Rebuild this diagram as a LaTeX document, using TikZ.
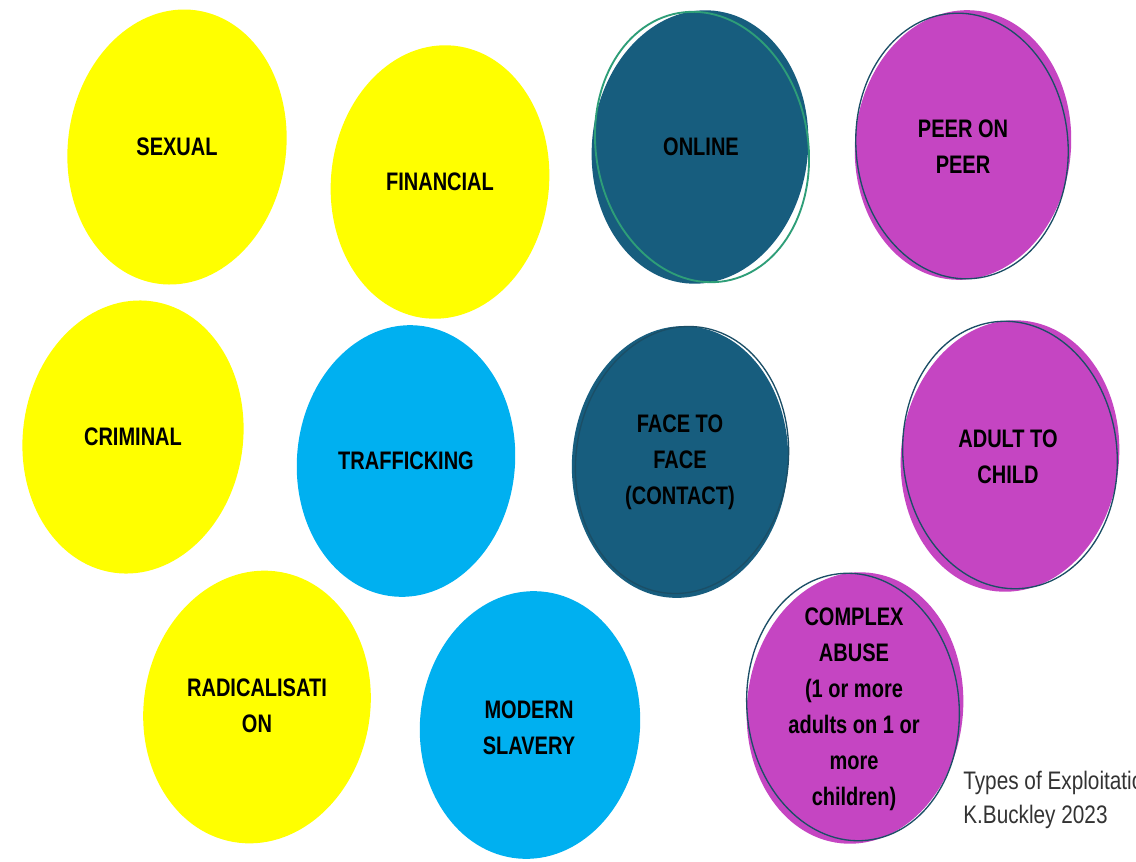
\documentclass[tikz,border=0pt]{standalone}
\usepackage{fontspec}
\setmainfont{Liberation Sans}
\newfontfamily\lblfont[FakeStretch=0.79]{Liberation Sans}
\newfontfamily\credfont[FakeStretch=0.82]{Liberation Sans}
\definecolor{ylw}{HTML}{FFFF00}
\definecolor{cyn}{HTML}{00B0F0}
\definecolor{tea}{HTML}{175D7E}
\definecolor{pur}{HTML}{C545C2}
\definecolor{dkout}{HTML}{1B4E66}
\definecolor{grn}{HTML}{2E9E78}
\definecolor{crd}{HTML}{333333}
\tikzset{
  lbl/.style={align=center, text=black, font=\lblfont\bfseries\fontsize{19}{27}\selectfont, inner sep=0pt},
  cred/.style={anchor=west, text=crd, font=\credfont\fontsize{19}{25}\selectfont, inner sep=0pt},
  edge1/.style={dkout, line width=1pt},
}
\begin{document}
\begin{tikzpicture}[x=0.75pt,y=-0.75pt]
\useasboundingbox (0,0) rectangle (1136,861);
\clip (0,0) rectangle (1136,861);
\fill[white] (0,0) rectangle (1136,861);
% yellow blobs
\fill[ylw, rotate around={-8:(177,147)}] (177,147) ellipse [x radius=109, y radius=138];
\fill[ylw, rotate around={-6:(440,182)}] (440,182) ellipse [x radius=109, y radius=137];
\fill[ylw, rotate around={-8:(133,437)}] (133,437) ellipse [x radius=110, y radius=137];
\fill[ylw, rotate around={-10:(257,707)}] (257,707) ellipse [x radius=113, y radius=137];
% cyan blobs
\fill[cyn, rotate around={-5:(406,461)}] (406,461) ellipse [x radius=109, y radius=136];
\fill[cyn, rotate around={-5:(530,725)}] (530,725) ellipse [x radius=110, y radius=134];
% teal blobs
\fill[tea, rotate around={-6:(700,147)}] (700,147) ellipse [x radius=108, y radius=137];
\draw[grn, line width=1.4pt, rotate around={10:(702,147)}] (702,147) ellipse [x radius=106, y radius=136];
\fill[tea, rotate around={-4:(680,462)}] (680,462) ellipse [x radius=108, y radius=136];
\draw[edge1, rotate around={-8:(682,460)}] (682,460) ellipse [x radius=106, y radius=134];
% purple blobs
\fill[pur, rotate around={-5:(963,145)}] (963,145) ellipse [x radius=108, y radius=135];
\draw[edge1, rotate around={5:(962,146)}] (962,146) ellipse [x radius=106, y radius=133];
\fill[pur, rotate around={-6:(1010,456)}] (1010,456) ellipse [x radius=109, y radius=136];
\draw[edge1, rotate around={6:(1010,455)}] (1010,455) ellipse [x radius=107, y radius=134];
\fill[pur, rotate around={-6:(855,708)}] (855,708) ellipse [x radius=108, y radius=136];
\draw[edge1, rotate around={6:(853,707)}] (853,707) ellipse [x radius=106, y radius=134];
% labels
\node[lbl] (sexual) at (177,147) {SEXUAL};
\node[lbl] (financial) at (440,182) {FINANCIAL};
\node[lbl] (online) at (701,147) {ONLINE};
\node[lbl] (peer) at (963,147) {PEER ON\\PEER};
\node[lbl] (criminal) at (133,437) {CRIMINAL};
\node[lbl] (traff) at (406,461) {TRAFFICKING};
\node[lbl] (face) at (680,462) {FACE TO\\FACE\\(CONTACT)};
\node[lbl] (adult) at (1008,457) {ADULT TO\\CHILD};
\node[lbl] (radical) at (257,706) {RADICALISATI\\ON};
\node[lbl] (modern) at (529,728) {MODERN\\SLAVERY};
\node[lbl] (complex) at (854,709) {COMPLEX\\ABUSE\\(1 or more\\adults on 1 or\\more\\children)};
\node[cred] (cred1) at (963,783) {Types of Exploitation};
\node[cred] (cred2) at (963,817) {K.Buckley 2023};
\end{tikzpicture}
\end{document}
